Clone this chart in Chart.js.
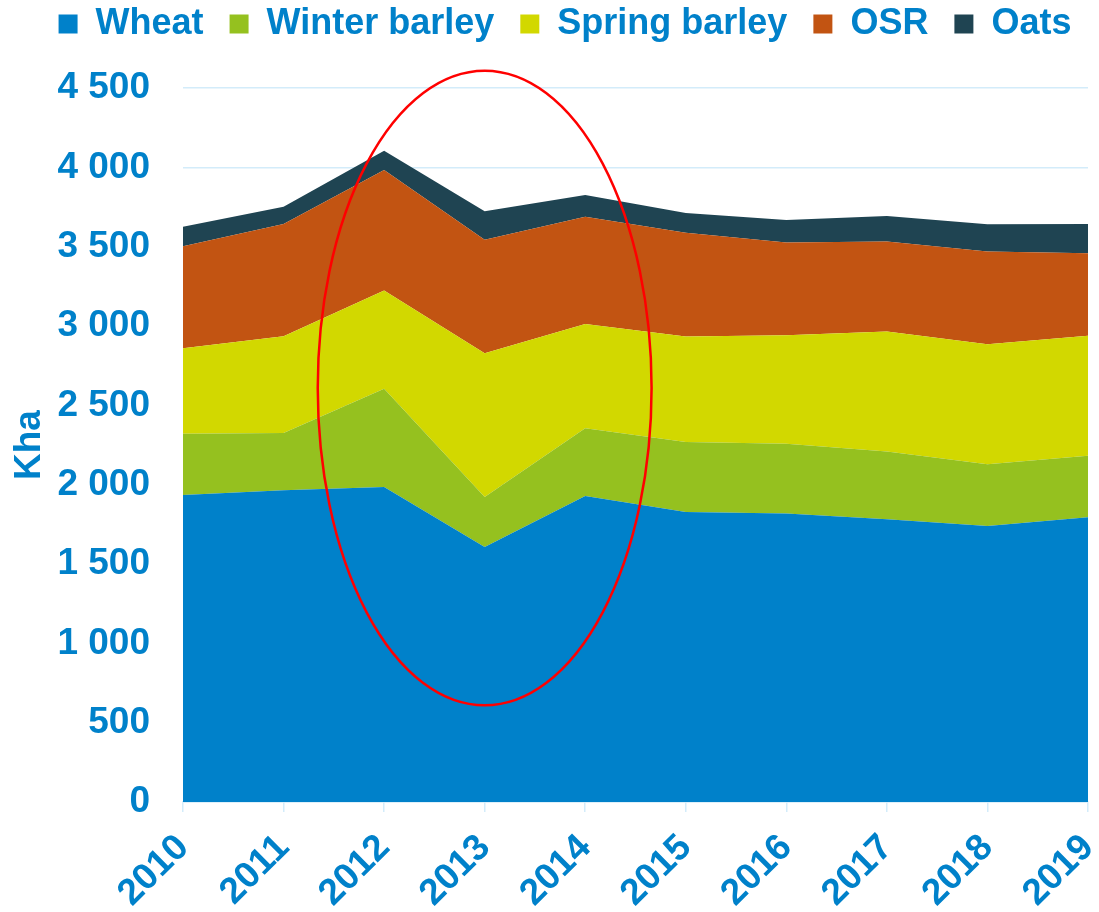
<!DOCTYPE html>
<html>
<head>
<meta charset="utf-8">
<script src="https://cdn.jsdelivr.net/npm/chart.js@4/dist/chart.umd.min.js"></script>
<style>
  html, body { margin: 0; padding: 0; background: #ffffff; }
  #wrap { width: 1099px; height: 912px; position: relative; }
</style>
</head>
<body>
<div id="wrap"><canvas id="areaChart"></canvas></div>
<script>
// Crop areas (Kha), stacked bottom to top
const years = ['2010', '2011', '2012', '2013', '2014', '2015', '2016', '2017', '2018', '2019'];
const wheat = [1935, 1965, 1986, 1608, 1929, 1828, 1818, 1782, 1740, 1795];
const winterBarley = [387, 361, 619, 315, 428, 441, 441, 428, 390, 388];
const springBarley = [539, 610, 619, 906, 657, 666, 684, 756, 756, 756];
const osr = [642, 708, 760, 716, 676, 653, 585, 567, 584, 520];
const oats = [124, 109, 122, 180, 137, 125, 141, 161, 172, 185];

const seriesNames = ['Wheat', 'Winter barley', 'Spring barley', 'OSR', 'Oats'];
const seriesData = [wheat, winterBarley, springBarley, osr, oats];
const seriesColors = ['#0081CA', '#95C11F', '#D2D800', '#C25412', '#1F4452'];

const textBlue = '#0081CA';
const gridBlue = '#D3ECFA';
const fontFamily = "'Liberation Sans', Arial, sans-serif";
const bigFont = { family: fontFamily, size: 37, weight: 'bold' };

// red ellipse highlighting 2012-2014 (centre in data units)
const ellipseCentre = { index: 3, value: 2610 };
const ellipseRadius = { categories: 1.66, value: 2000 };

const ellipsePlugin = {
    id: 'ellipseHighlight',
    afterDraw(chart) {
        const x = chart.scales.x;
        const y = chart.scales.y;
        const cx = x.getPixelForValue(ellipseCentre.index);
        const cy = y.getPixelForValue(ellipseCentre.value);
        const rx = (x.getPixelForValue(1) - x.getPixelForValue(0)) * ellipseRadius.categories;
        const ry = y.getPixelForValue(0) - y.getPixelForValue(ellipseRadius.value);
        const ctx = chart.ctx;
        ctx.save();
        ctx.beginPath();
        ctx.ellipse(cx, cy, rx, ry, 0, 0, Math.PI * 2);
        ctx.strokeStyle = '#FF0000';
        ctx.lineWidth = 2.5;
        ctx.stroke();
        ctx.restore();
    }
};

const ctxArea = document.getElementById('areaChart').getContext('2d');
const areaChart = new Chart(ctxArea, {
    type: 'line',
    data: {
        labels: years,
        datasets: seriesNames.map((name, i) => ({
            label: name,
            data: seriesData[i],
            backgroundColor: seriesColors[i],
            borderColor: seriesColors[i],
            borderWidth: 0,
            pointRadius: 0,
            tension: 0,
            fill: i === 0 ? 'origin' : '-1'
        }))
    },
    options: {
        responsive: true,
        maintainAspectRatio: false,
        animation: false,
        layout: {
            padding: { left: 31, right: 0, top: 0, bottom: 2 }
        },
        scales: {
            x: {
                offset: false,
                border: { display: true, color: gridBlue, width: 1.5 },
                grid: {
                    drawOnChartArea: false,
                    drawTicks: true,
                    tickLength: 10,
                    color: gridBlue,
                    lineWidth: 1.5
                },
                ticks: {
                    color: textBlue,
                    font: bigFont,
                    maxRotation: 45,
                    minRotation: 45,
                    padding: 14
                },
                afterFit: function(scale) {
                    scale.paddingRight = 11;
                    scale.height = 108;
                }
            },
            y: {
                stacked: true,
                min: 0,
                max: 4500,
                border: { display: false },
                grid: {
                    color: gridBlue,
                    lineWidth: 1.5,
                    drawTicks: false
                },
                ticks: {
                    stepSize: 500,
                    color: textBlue,
                    padding: 33,
                    font: bigFont,
                    callback: function(value) {
                        if (value >= 1000) {
                            return Math.floor(value / 1000) + ' ' + String(value % 1000).padStart(3, '0');
                        }
                        return String(value);
                    }
                },
                title: {
                    display: true,
                    text: 'Kha',
                    color: textBlue,
                    padding: { top: -23, bottom: 0 },
                    font: bigFont
                },
                afterFit: function(scale) {
                    scale.width = 152;
                }
            }
        },
        plugins: {
            legend: {
                position: 'top',
                weight: 3000,
                labels: {
                    color: textBlue,
                    boxWidth: 19,
                    boxHeight: 19,
                    padding: 6,
                    font: { family: fontFamily, size: 36, weight: 'bold' },
                    generateLabels: function(chart) {
                        const items = Chart.defaults.plugins.legend.labels.generateLabels(chart);
                        items.forEach((item, i) => {
                            item.lineWidth = 0;
                            if (i < items.length - 1) item.text = item.text + '  ';
                        });
                        return items;
                    }
                }
            },
            // empty title used only as a spacer between legend and plot
            title: {
                display: true,
                text: '',
                weight: 2000,
                padding: { top: 0, bottom: 35 },
                font: { size: 1 }
            },
            tooltip: { enabled: false }
        }
    },
    plugins: [ellipsePlugin]
});
</script>
</body>
</html>
